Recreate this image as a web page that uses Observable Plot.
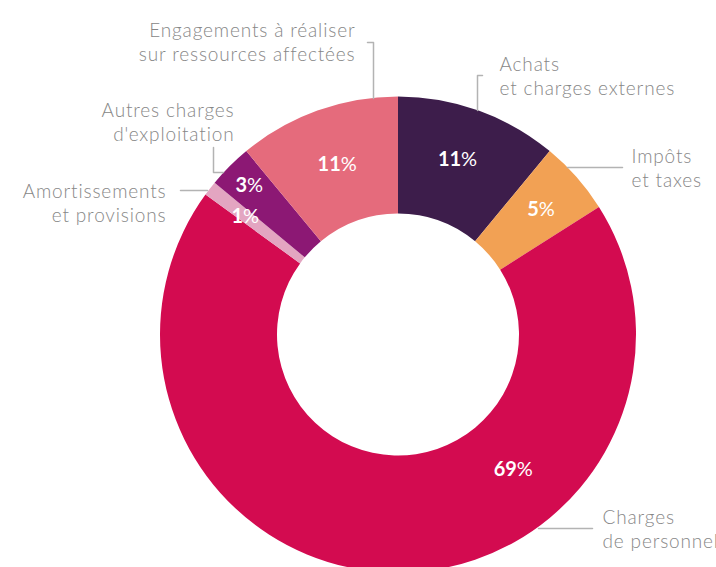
<!DOCTYPE html>
<html>
<head>
<meta charset="utf-8">
<script src="https://cdn.jsdelivr.net/npm/d3@7"></script>
<script src="https://cdn.jsdelivr.net/npm/@observablehq/plot@0.6"></script>
<style>
  html, body { margin: 0; padding: 0; background: #fff; overflow: hidden; }
  #chart svg { display: block; }
</style>
</head>
<body>
<div id="chart"></div>
<script>
// ---- Data ----
const categories = [
  "Achats et charges externes",
  "Impôts et taxes",
  "Charges de personnel",
  "Amortissements et provisions",
  "Autres charges d'exploitation",
  "Engagements à réaliser sur ressources affectées"
];
const shares = [11, 5, 69, 1, 3, 11];
const pctLabels = ["11%", "5%", "69%", "1%", "3%", "11%"];
const labelText = [
  "Achats\net charges externes",
  "Impôts\net taxes",
  "Charges\nde personnel",
  "Amortissements\net provisions",
  "Autres charges\nd'exploitation",
  "Engagements à réaliser\nsur ressources affectées"
];
const colors = ["#3d1d4b", "#f2a154", "#d30b50", "#e3a5c1", "#8c1874", "#e56b7c"];

// ---- Layout (pixel-space annotation geometry) ----
const W = 716, H = 567;
const center = [398, 334.5];
const rOuter = 238, rInner = 121;
const pctRadius = [185, 190, 177, 194, 211, 181];
const pctFrac = [0.47, 0.5, 0.33, 0.5, 0.5, 0.5];
const outerLabelPos = [ // [x, y-top, anchor]
  [499, 53.5, "start"],
  [631, 145.5, "start"],
  [602, 506.5, "start"],
  [166, 180.5, "end"],
  [234, 99.5, "end"],
  [355, 19.5, "end"]
];
const leaders = [
  [[482, 75], [477, 75], [477, 110]],
  [[567, 167], [622, 167]],
  [[538, 528], [592, 528]],
  [[180, 190], [207, 190]],
  [[213, 147], [213, 172], [223, 172]],
  [[367, 42], [373, 42], [373, 98]]
];

// ---- Build ----
const rows = categories.map((c, i) => ({category: c, share: shares[i], pct: pctLabels[i], label: labelText[i], i}));
const arcs = d3.pie().sort(null).value(d => d.share)(rows);

const pctRows = arcs.map((a, i) => {
  const ang = a.startAngle + (a.endAngle - a.startAngle) * pctFrac[i];
  return {
    pct: a.data.pct,
    x: center[0] + pctRadius[i] * Math.sin(ang),
    y: center[1] - pctRadius[i] * Math.cos(ang)
  };
});
const outerRows = rows.map((r, i) => ({label: r.label, x: outerLabelPos[i][0], y: outerLabelPos[i][1], anchor: outerLabelPos[i][2]}));
const leaderRows = leaders.flatMap((pts, k) => pts.map(([x, y]) => ({k, x, y})));

const chart = Plot.plot({
  width: W,
  height: H,
  margin: 0,
  x: {domain: [0, W], range: [0, W], axis: null},
  y: {domain: [0, H], range: [0, H], axis: null},
  color: {domain: categories, range: colors, type: "ordinal"},
  style: {fontFamily: "Lato, 'Open Sans', sans-serif", background: "#fff", overflow: "hidden"},
  marks: [
    Plot.dot(arcs, {
      x: () => center[0],
      y: () => center[1],
      fill: d => d.data.category,
      render(index, scales, values) {
        const g = d3.create("svg:g");
        const cx = scales.x(center[0]), cy = scales.y(center[1]);
        const ro = Math.abs(scales.x(center[0] + rOuter) - cx);
        const ri = Math.abs(scales.x(center[0] + rInner) - cx);
        const arcGen = d3.arc().innerRadius(ri).outerRadius(ro);
        for (const i of index) {
          g.append("path")
            .attr("transform", `translate(${cx},${cy})`)
            .attr("d", arcGen({startAngle: arcs[i].startAngle, endAngle: arcs[i].endAngle}))
            .attr("fill", values.fill[i]);
        }
        return g.node();
      }
    }),
    Plot.line(leaderRows, {x: "x", y: "y", z: "k", stroke: "#b3b3b3", strokeWidth: 1.5, curve: "linear"}),
    Plot.text(pctRows, {x: "x", y: "y", text: "pct", fill: "white", fontSize: 20, fontWeight: 700, textAnchor: "middle"}),
    Plot.text(outerRows.filter(d => d.anchor === "start"), {
      x: "x", y: "y", text: "label", fill: "#878787", fontSize: 19, fontWeight: 300,
      textAnchor: "start", lineAnchor: "top", lineHeight: 1.263
    }),
    Plot.text(outerRows.filter(d => d.anchor === "end"), {
      x: "x", y: "y", text: "label", fill: "#878787", fontSize: 19, fontWeight: 300,
      textAnchor: "end", lineAnchor: "top", lineHeight: 1.263
    })
  ]
});

// letter spacing for outer labels
d3.select(chart).selectAll("text").filter(function() { return /[a-z]/i.test(this.textContent) && !/%/.test(this.textContent); })
  .attr("letter-spacing", "0.85px");

// split percentage labels: bold number, lighter percent sign
d3.select(chart).selectAll("text").filter(function() { return /^\d+%$/.test(this.textContent); })
  .each(function() {
    const t = this.textContent;
    const num = t.slice(0, -1);
    const sel = d3.select(this);
    sel.text(null);
    sel.append("tspan").attr("font-weight", 700).text(num);
    sel.append("tspan").attr("font-weight", 400).text("%");
  });

document.getElementById("chart").appendChild(chart);
</script>
</body>
</html>
